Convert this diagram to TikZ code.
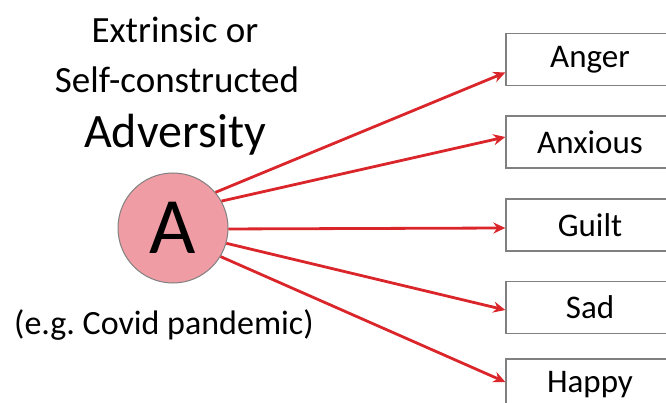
\documentclass[tikz,border=0pt]{standalone}
\usepackage{fontspec}
\setmainfont{Carlito}
\usetikzlibrary{arrows.meta}

\definecolor{arrowred}{RGB}{218,37,42}
\definecolor{circpink}{RGB}{240,156,165}
\definecolor{edgegray}{RGB}{128,128,128}

\tikzset{
  emobox/.style={draw=edgegray, line width=1.3pt, fill=white, minimum width=168pt,
    minimum height=52pt, inner sep=0pt, font=\fontsize{33}{36}\selectfont},
  causelabel/.style={anchor=base, font=\fontsize{37}{40}\selectfont},
}

\begin{document}
\begin{tikzpicture}[x=1pt, y=-1pt]
\useasboundingbox (0,0) rectangle (666,403);

\node[causelabel] (ext) at (175,43) {Extrinsic or};
\node[causelabel] (self) at (177,93) {Self-constructed};
\node[causelabel, font=\fontsize{48}{50}\selectfont] (adv) at (175,148) {Adversity};
\node[causelabel, font=\fontsize{34}{36}\selectfont] (eg) at (164,334) {(e.g.\ Covid pandemic)};

\node[circle, draw=edgegray, line width=1pt, fill=circpink, minimum size=110pt, inner sep=0pt,
      font=\fontsize{80}{80}\selectfont] (A) at (173,228) {A};

\node[emobox] (anger)   at (590,59.5)  {Anger};
\node[emobox] (anxious) at (590,142)   {Anxious};
\node[emobox] (guilt)   at (590,225)   {Guilt};
\node[emobox] (sad)     at (590,307.5) {Sad};
\node[emobox] (happy)   at (590,385)   {Happy};

\begin{scope}[draw=arrowred, line width=2.8pt, -{Stealth[length=12pt, width=11pt]}]
  \draw (A.40)  -- ([yshift=-13pt]anger.west);
  \draw (A.29)  -- ([yshift=5pt]anxious.west);
  \draw (A.-1)  -- ([yshift=-3pt]guilt.west);
  \draw (A.-16) -- ([yshift=-2.5pt]sad.west);
  \draw (A.-31) -- ([yshift=3pt]happy.west);
\end{scope}
\end{tikzpicture}
\end{document}
